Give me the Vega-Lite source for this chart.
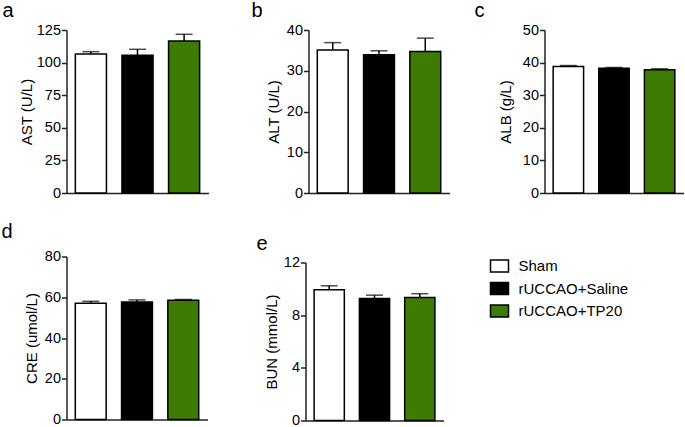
{
  "$schema": "https://vega.github.io/schema/vega-lite/v6.json",
  "background": "white",
  "padding": {"left": 1.5, "top": 0, "right": 0, "bottom": 0},
  "config": {
    "font": "Liberation Sans",
    "view": {"stroke": null},
    "axis": {"grid": false, "labelOverlap": false, "tickCount": 12, "domainColor": "#222", "domainWidth": 1.5, "tickColor": "#222", "tickWidth": 1.5, "tickSize": 5, "labelFontSize": 14.5, "labelColor": "#000", "labelPadding": 1, "titleFontSize": 15, "titleFontWeight": "normal", "titleColor": "#000"},
    "axisX": {"labels": false, "ticks": false, "title": null},
    "title": {"fontSize": 20, "fontWeight": "normal", "anchor": "start", "frame": "group", "baseline": "alphabetic", "color": "#000"},
    "legend": {"orient": "none", "legendX": 423, "legendY": 226, "title": null, "symbolType": "M-1,-0.667L1,-0.667L1,0.667L-1,0.667Z", "symbolSize": 324, "symbolStrokeColor": "#000", "symbolStrokeWidth": 1.5, "symbolOpacity": 1, "labelFontSize": 15, "labelColor": "#000", "labelOffset": 9, "rowPadding": 2.5}
  },
  "datasets": {
    "d": [
      {"panel": "a", "group": "Sham", "mean": 106.6, "upper": 108.4},
      {"panel": "a", "group": "rUCCAO+Saline", "mean": 105.6, "upper": 110.2},
      {"panel": "a", "group": "rUCCAO+TP20", "mean": 116.6, "upper": 121.7},
      {"panel": "b", "group": "Sham", "mean": 35.1, "upper": 36.9},
      {"panel": "b", "group": "rUCCAO+Saline", "mean": 33.9, "upper": 34.9},
      {"panel": "b", "group": "rUCCAO+TP20", "mean": 34.7, "upper": 38.0},
      {"panel": "c", "group": "Sham", "mean": 38.8, "upper": 39.1},
      {"panel": "c", "group": "rUCCAO+Saline", "mean": 38.3, "upper": 38.5},
      {"panel": "c", "group": "rUCCAO+TP20", "mean": 37.8, "upper": 38.1},
      {"panel": "d", "group": "Sham", "mean": 57.0, "upper": 58.0},
      {"panel": "d", "group": "rUCCAO+Saline", "mean": 57.7, "upper": 58.7},
      {"panel": "d", "group": "rUCCAO+TP20", "mean": 58.5, "upper": 58.9},
      {"panel": "e", "group": "Sham", "mean": 9.93, "upper": 10.23},
      {"panel": "e", "group": "rUCCAO+Saline", "mean": 9.27, "upper": 9.52},
      {"panel": "e", "group": "rUCCAO+TP20", "mean": 9.35, "upper": 9.63}
    ]
  },
  "spacing": 21.5,
  "vconcat": [
    {
      "bounds": "flush",
      "spacing": 100,
      "hconcat": [
        {
          "title": {"text": "a", "dx": -64, "offset": 1.5},
          "width": 142, "height": 163,
          "data": {"name": "d"},
          "transform": [{"filter": "datum.panel === 'a'"}],
          "encoding": {"x": {"field": "group", "type": "nominal", "sort": ["Sham", "rUCCAO+Saline", "rUCCAO+TP20"], "scale": {"paddingInner": 0.333, "paddingOuter": 0.19}}},
          "layer": [
            {"mark": {"type": "bar", "stroke": "#000", "strokeWidth": 1.5}, "encoding": {"y": {"field": "mean", "type": "quantitative", "scale": {"domain": [0, 125], "nice": false}, "axis": {"values": [0, 25, 50, 75, 100, 125], "tickCount": 12, "labelOverlap": false, "title": "AST (U/L)", "titlePadding": 2}}, "color": {"field": "group", "type": "nominal", "sort": ["Sham", "rUCCAO+Saline", "rUCCAO+TP20"], "scale": {"domain": ["Sham", "rUCCAO+Saline", "rUCCAO+TP20"], "range": ["#ffffff", "#000000", "#3d7b02"]}}}},
            {"mark": {"type": "rule", "color": "#000", "strokeWidth": 1.5}, "encoding": {"y": {"field": "mean", "type": "quantitative"}, "y2": {"field": "upper"}}},
            {"mark": {"type": "tick", "color": "#000", "thickness": 1.5, "size": 17}, "encoding": {"y": {"field": "upper", "type": "quantitative"}}}
          ]
        },
        {
          "bounds": "flush",
          "spacing": 95,
          "hconcat": [
            {
              "title": {"text": "b", "dx": -57, "offset": 1.5},
              "width": 141, "height": 163,
              "data": {"name": "d"},
              "transform": [{"filter": "datum.panel === 'b'"}],
              "encoding": {"x": {"field": "group", "type": "nominal", "sort": ["Sham", "rUCCAO+Saline", "rUCCAO+TP20"], "scale": {"paddingInner": 0.333, "paddingOuter": 0.19}}},
              "layer": [
                {"mark": {"type": "bar", "stroke": "#000", "strokeWidth": 1.5}, "encoding": {"y": {"field": "mean", "type": "quantitative", "scale": {"domain": [0, 40], "nice": false}, "axis": {"values": [0, 10, 20, 30, 40], "tickCount": 12, "labelOverlap": false, "title": "ALT (U/L)", "titlePadding": 5}}, "color": {"field": "group", "type": "nominal", "sort": ["Sham", "rUCCAO+Saline", "rUCCAO+TP20"], "scale": {"domain": ["Sham", "rUCCAO+Saline", "rUCCAO+TP20"], "range": ["#ffffff", "#000000", "#3d7b02"]}}}},
                {"mark": {"type": "rule", "color": "#000", "strokeWidth": 1.5}, "encoding": {"y": {"field": "mean", "type": "quantitative"}, "y2": {"field": "upper"}}},
                {"mark": {"type": "tick", "color": "#000", "thickness": 1.5, "size": 17}, "encoding": {"y": {"field": "upper", "type": "quantitative"}}}
              ]
            },
            {
              "title": {"text": "c", "dx": -70, "offset": 1.5},
              "width": 139, "height": 163,
              "data": {"name": "d"},
              "transform": [{"filter": "datum.panel === 'c'"}],
              "encoding": {"x": {"field": "group", "type": "nominal", "sort": ["Sham", "rUCCAO+Saline", "rUCCAO+TP20"], "scale": {"paddingInner": 0.333, "paddingOuter": 0.19}}},
              "layer": [
                {"mark": {"type": "bar", "stroke": "#000", "strokeWidth": 1.5}, "encoding": {"y": {"field": "mean", "type": "quantitative", "scale": {"domain": [0, 50], "nice": false}, "axis": {"values": [0, 10, 20, 30, 40, 50], "tickCount": 12, "labelOverlap": false, "title": "ALB (g/L)", "titlePadding": 9}}, "color": {"field": "group", "type": "nominal", "sort": ["Sham", "rUCCAO+Saline", "rUCCAO+TP20"], "scale": {"domain": ["Sham", "rUCCAO+Saline", "rUCCAO+TP20"], "range": ["#ffffff", "#000000", "#3d7b02"]}}}},
                {"mark": {"type": "rule", "color": "#000", "strokeWidth": 1.5}, "encoding": {"y": {"field": "mean", "type": "quantitative"}, "y2": {"field": "upper"}}},
                {"mark": {"type": "tick", "color": "#000", "thickness": 1.5, "size": 17}, "encoding": {"y": {"field": "upper", "type": "quantitative"}}}
              ]
            }
          ]
        }
      ]
    },
    {
      "bounds": "flush",
      "spacing": 98,
      "hconcat": [
        {
          "title": {"text": "d", "dx": -65, "offset": 6.5},
          "width": 141, "height": 163,
          "data": {"name": "d"},
          "transform": [{"filter": "datum.panel === 'd'"}],
          "encoding": {"x": {"field": "group", "type": "nominal", "sort": ["Sham", "rUCCAO+Saline", "rUCCAO+TP20"], "scale": {"paddingInner": 0.333, "paddingOuter": 0.19}}},
          "layer": [
            {"mark": {"type": "bar", "stroke": "#000", "strokeWidth": 1.5}, "encoding": {"y": {"field": "mean", "type": "quantitative", "scale": {"domain": [0, 80], "nice": false}, "axis": {"values": [0, 20, 40, 60, 80], "tickCount": 12, "labelOverlap": false, "title": "CRE (umol/L)", "titlePadding": 5}}, "color": {"field": "group", "type": "nominal", "sort": ["Sham", "rUCCAO+Saline", "rUCCAO+TP20"], "scale": {"domain": ["Sham", "rUCCAO+Saline", "rUCCAO+TP20"], "range": ["#ffffff", "#000000", "#3d7b02"]}}}},
            {"mark": {"type": "rule", "color": "#000", "strokeWidth": 1.5}, "encoding": {"y": {"field": "mean", "type": "quantitative"}, "y2": {"field": "upper"}}},
            {"mark": {"type": "tick", "color": "#000", "thickness": 1.5, "size": 17}, "encoding": {"y": {"field": "upper", "type": "quantitative"}}}
          ]
        },
        {
          "bounds": "flush",
          "spacing": 5,
          "vconcat": [
            {
              "width": 138, "height": 1,
              "data": {"values": [{"v": 0}]},
              "mark": {"type": "rule", "opacity": 0},
              "encoding": {}
            },
            {
              "title": {"text": "e", "dx": -49, "offset": 0.5},
              "width": 138, "height": 158,
              "data": {"name": "d"},
              "transform": [{"filter": "datum.panel === 'e'"}],
              "encoding": {"x": {"field": "group", "type": "nominal", "sort": ["Sham", "rUCCAO+Saline", "rUCCAO+TP20"], "scale": {"paddingInner": 0.333, "paddingOuter": 0.19}}},
              "layer": [
                {"mark": {"type": "bar", "stroke": "#000", "strokeWidth": 1.5}, "encoding": {"y": {"field": "mean", "type": "quantitative", "scale": {"domain": [0, 12], "nice": false}, "axis": {"values": [0, 4, 8, 12], "tickCount": 12, "labelOverlap": false, "title": "BUN (mmol/L)", "titlePadding": 4}}, "color": {"field": "group", "type": "nominal", "sort": ["Sham", "rUCCAO+Saline", "rUCCAO+TP20"], "scale": {"domain": ["Sham", "rUCCAO+Saline", "rUCCAO+TP20"], "range": ["#ffffff", "#000000", "#3d7b02"]}}}},
                {"mark": {"type": "rule", "color": "#000", "strokeWidth": 1.5}, "encoding": {"y": {"field": "mean", "type": "quantitative"}, "y2": {"field": "upper"}}},
                {"mark": {"type": "tick", "color": "#000", "thickness": 1.5, "size": 17}, "encoding": {"y": {"field": "upper", "type": "quantitative"}}}
              ]
            }
          ]
        }
      ]
    }
  ]
}
